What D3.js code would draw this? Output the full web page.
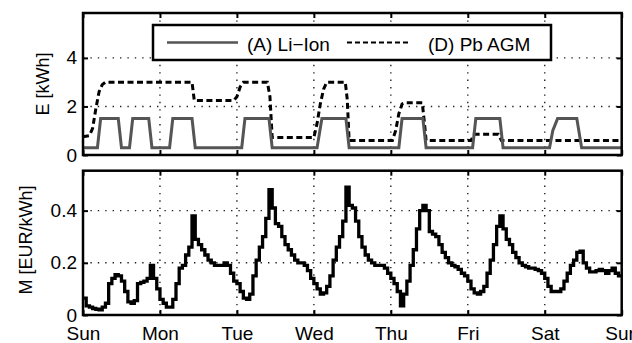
<!DOCTYPE html>
<html>
<head>
<meta charset="utf-8">
<script src="https://cdn.jsdelivr.net/npm/d3@7"></script>
<style>
    body { margin: 0; background: #fff; }
    svg { display: block; font-family: "Liberation Sans", Arial, sans-serif; }
</style>
</head>
<body>
<svg id="chart" width="632" height="343"></svg>
<script>
// day labels on the shared x axis (hours 0..168)
const dayLabels = ["Sun", "Mon", "Tue", "Wed", "Thu", "Fri", "Sat", "Sun"];
const dayTicks = [0, 24, 48, 72, 96, 120, 144, 168];

// hourly market price, EUR/kWh
const priceSun = [0.065, 0.035, 0.03, 0.025, 0.022, 0.02, 0.03, 0.045, 0.12, 0.14, 0.155, 0.15,
                  0.13, 0.09, 0.05, 0.045, 0.055, 0.12, 0.125, 0.13, 0.14, 0.19, 0.14, 0.10];
const priceMon = [0.06, 0.045, 0.03, 0.03, 0.06, 0.12, 0.18, 0.19, 0.23, 0.26, 0.38, 0.29,
                  0.27, 0.25, 0.23, 0.21, 0.20, 0.19, 0.19, 0.19, 0.20, 0.19, 0.16, 0.13];
const priceTue = [0.12, 0.09, 0.065, 0.06, 0.08, 0.15, 0.21, 0.26, 0.30, 0.37, 0.48, 0.41,
                  0.35, 0.34, 0.30, 0.27, 0.25, 0.23, 0.21, 0.20, 0.20, 0.19, 0.17, 0.14];
const priceWed = [0.12, 0.10, 0.08, 0.085, 0.11, 0.15, 0.21, 0.26, 0.30, 0.36, 0.49, 0.42,
                  0.41, 0.36, 0.30, 0.26, 0.23, 0.21, 0.20, 0.19, 0.19, 0.19, 0.18, 0.16];
const priceThu = [0.14, 0.12, 0.09, 0.035, 0.08, 0.13, 0.19, 0.25, 0.33, 0.40, 0.42, 0.40,
                  0.32, 0.31, 0.30, 0.27, 0.24, 0.22, 0.20, 0.19, 0.185, 0.175, 0.16, 0.15];
const priceFri = [0.13, 0.10, 0.085, 0.08, 0.09, 0.11, 0.16, 0.21, 0.27, 0.34, 0.38, 0.33,
                  0.29, 0.27, 0.24, 0.22, 0.20, 0.19, 0.185, 0.18, 0.18, 0.175, 0.17, 0.16];
const priceSat = [0.14, 0.11, 0.09, 0.09, 0.09, 0.10, 0.13, 0.16, 0.19, 0.21, 0.24, 0.245,
                  0.20, 0.18, 0.165, 0.165, 0.17, 0.175, 0.17, 0.16, 0.17, 0.18, 0.16, 0.15];

// stored energy, kWh (breakpoints in hours)
const liIonHours = [0, 4.5, 5.5, 11, 12, 14.5, 15.5, 20.5, 21.5, 27, 28, 34, 35,
                    49.5, 50.5, 58, 59, 73, 74.5, 82, 83, 98.5, 99.5, 106, 107,
                    121.5, 122.5, 130, 131, 145.5, 146.5, 148, 154, 155.5, 168];
const liIonKWh   = [0.3, 0.3, 1.5, 1.5, 0.3, 0.3, 1.5, 1.5, 0.3, 0.3, 1.5, 1.5, 0.3,
                    0.3, 1.5, 1.5, 0.3, 0.3, 1.5, 1.5, 0.3, 0.3, 1.5, 1.5, 0.3,
                    0.3, 1.5, 1.5, 0.3, 0.3, 1.0, 1.5, 1.5, 0.3, 0.3];
const pbHours = [0, 2, 3, 4, 5, 6, 7, 34, 34.7, 47, 48, 49, 50, 57.5, 58.3, 59,
                 72, 73, 74, 75, 76, 81.8, 82.4, 83, 96.5, 97.5, 98.5, 99.5, 100.5,
                 105.8, 106.5, 107, 121, 122, 129.5, 130.5, 168];
const pbKWh   = [0.75, 0.8, 1.1, 1.9, 2.6, 2.9, 3.0, 3.0, 2.25, 2.25, 2.4, 2.8, 3.0, 3.0, 2.4, 0.72,
                 0.72, 1.3, 2.1, 2.7, 3.0, 3.0, 2.3, 0.6, 0.6, 1.0, 1.7, 2.1, 2.15,
                 2.15, 1.3, 0.6, 0.6, 0.85, 0.85, 0.6, 0.6];

const energyTicks = [0, 2, 4];
const priceTicks = [0, 0.2, 0.4];
const legendLabels = ["(A) Li\u2212Ion", "(D) Pb AGM"];

const svg = d3.select("#chart");
const left = 83, right = 621.7;
const top1 = { top: 13, bottom: 155 };
const top2 = { top: 170.7, bottom: 315 };

const x = d3.scaleLinear().domain([0, 168]).range([left, right]);
const yE = d3.scaleLinear().domain([0, 5.85]).range([top1.bottom, top1.top]);
const yM = d3.scaleLinear().domain([0, 0.553]).range([top2.bottom, top2.top]);

const price = [].concat(priceSun, priceMon, priceTue, priceWed, priceThu, priceFri, priceSat);
const pricePts = price.map((v, i) => [i, v]);
pricePts.push([168, price[price.length - 1]]);

function drawPanel(y, ticks, box, showX) {
    const g = svg.append("g");

    // dotted grid
    g.append("g").selectAll("line").data(dayTicks.slice(1, -1)).join("line")
        .attr("x1", d => x(d)).attr("x2", d => x(d))
        .attr("y1", box.top).attr("y2", box.bottom)
        .attr("stroke", "#222").attr("stroke-width", 1.4)
        .attr("stroke-dasharray", "1.4,6");
    g.append("g").selectAll("line").data(ticks.slice(1)).join("line")
        .attr("x1", left).attr("x2", right)
        .attr("y1", d => y(d)).attr("y2", d => y(d))
        .attr("stroke", "#222").attr("stroke-width", 1.4)
        .attr("stroke-dasharray", "1.4,6");

    const fmt = d => d3.format("~g")(d);
    g.append("g").attr("transform", "translate(" + left + ",0)")
        .call(d3.axisLeft(y).tickValues(ticks).tickSize(-5).tickPadding(6).tickFormat(fmt))
        .call(a => a.select(".domain").remove());
    g.append("g").attr("transform", "translate(" + right + ",0)")
        .call(d3.axisRight(y).tickValues(ticks).tickSize(-5).tickFormat(""))
        .call(a => a.select(".domain").remove());
    g.append("g").attr("transform", "translate(0," + box.top + ")")
        .call(d3.axisTop(x).tickValues(dayTicks).tickSize(-5).tickFormat(""))
        .call(a => a.select(".domain").remove());
    g.append("g").attr("transform", "translate(0," + box.bottom + ")")
        .call(d3.axisBottom(x).tickValues(dayTicks).tickSize(-5).tickPadding(12)
            .tickFormat((d, i) => showX ? dayLabels[i] : ""))
        .call(a => a.select(".domain").remove());

    g.selectAll(".tick line").attr("stroke", "#000").attr("stroke-width", 2);
    g.selectAll(".tick text").attr("fill", "#000").attr("font-size", 19)
        .attr("font-family", "Liberation Sans, Arial, sans-serif");
    return g;
}

// ---- top panel: energy
drawPanel(yE, energyTicks, top1, false);

const eLine = (hrs, vals) => d3.line()(hrs.map((h, i) => [x(h), yE(vals[i])]));

svg.append("path").attr("d", eLine(pbHours, pbKWh))
    .attr("fill", "none").attr("stroke", "#000").attr("stroke-width", 3)
    .attr("stroke-dasharray", "6,3.5");
svg.append("path").attr("d", eLine(liIonHours, liIonKWh))
    .attr("fill", "none").attr("stroke", "#555").attr("stroke-width", 3);

// legend
const lg = svg.append("g");
lg.append("rect").attr("x", 153).attr("y", 25).attr("width", 398).attr("height", 35)
    .attr("fill", "#fff").attr("stroke", "#000").attr("stroke-width", 2.5);
lg.append("line").attr("x1", 167).attr("x2", 238).attr("y1", 42.5).attr("y2", 42.5)
    .attr("stroke", "#555").attr("stroke-width", 2.5);
lg.append("text").attr("x", 247).attr("y", 50.5).attr("font-size", 19).text(legendLabels[0]);
lg.append("line").attr("x1", 347).attr("x2", 410).attr("y1", 42.5).attr("y2", 42.5)
    .attr("stroke", "#000").attr("stroke-width", 2).attr("stroke-dasharray", "5,3");
lg.append("text").attr("x", 428).attr("y", 50.5).attr("font-size", 19).text(legendLabels[1]);

svg.append("rect").attr("x", left).attr("y", top1.top)
    .attr("width", right - left).attr("height", top1.bottom - top1.top)
    .attr("fill", "none").attr("stroke", "#000").attr("stroke-width", 2.5);

// ---- bottom panel: price
drawPanel(yM, priceTicks, top2, true);

svg.append("path")
    .attr("d", d3.line().curve(d3.curveStepAfter).x(d => x(d[0])).y(d => yM(d[1]))(pricePts))
    .attr("fill", "none").attr("stroke", "#000").attr("stroke-width", 3.3);

svg.append("rect").attr("x", left).attr("y", top2.top)
    .attr("width", right - left).attr("height", top2.bottom - top2.top)
    .attr("fill", "none").attr("stroke", "#000").attr("stroke-width", 2.5);

// axis titles
svg.append("text").attr("transform", "translate(43,84) rotate(-90)")
    .attr("text-anchor", "middle").attr("dy", "0.35em").attr("font-size", 18).text("E [kWh]");
svg.append("text").attr("transform", "translate(26,240) rotate(-90)")
    .attr("text-anchor", "middle").attr("dy", "0.35em").attr("font-size", 18).text("M [EUR/kWh]");
</script>
</body>
</html>
